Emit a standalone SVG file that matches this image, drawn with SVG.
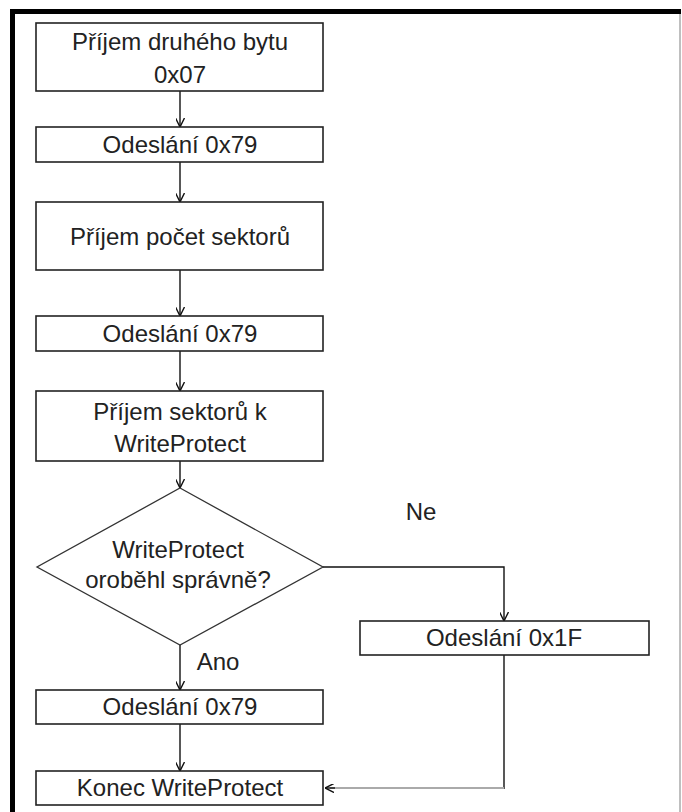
<svg xmlns="http://www.w3.org/2000/svg" width="682" height="812" viewBox="0 0 682 812">
<style>
.box{fill:#fff;stroke:#222;stroke-width:1.6}
.t{font-family:"Liberation Sans",Arial,sans-serif;font-size:24px;fill:#222;text-anchor:middle}
.c{fill:none;stroke:#111;stroke-width:1.4}
</style>
<defs>
<marker id="ah" viewBox="0 0 10 10" refX="10" refY="5" markerWidth="9" markerHeight="9" markerUnits="userSpaceOnUse" orient="auto">
<path d="M0,0 L10,5 L0,10" fill="none" stroke="#111" stroke-width="1.6"/>
</marker>
</defs>
<rect width="682" height="812" fill="#fff"/>
<g id="frame">
<rect x="10" y="9" width="671" height="5" fill="#000"/>
<rect x="10" y="9" width="5" height="803" fill="#000"/>
<line x1="680" y1="14" x2="680" y2="812" stroke="#aaa" stroke-width="1.5"/>
</g>
<g id="connectors">
<line class="c" x1="180" y1="91" x2="180" y2="127" marker-end="url(#ah)"/>
<line class="c" x1="180" y1="162" x2="180" y2="202" marker-end="url(#ah)"/>
<line class="c" x1="180" y1="270" x2="180" y2="316" marker-end="url(#ah)"/>
<line class="c" x1="180" y1="351" x2="180" y2="391" marker-end="url(#ah)"/>
<line class="c" x1="180" y1="461" x2="180" y2="488" marker-end="url(#ah)"/>
<line class="c" x1="180" y1="645" x2="180" y2="690" marker-end="url(#ah)"/>
<line class="c" x1="180" y1="724" x2="180" y2="771" marker-end="url(#ah)"/>
<polyline class="c" points="323,567 504,567 504,621" marker-end="url(#ah)"/>
<line x1="504" y1="655" x2="504" y2="789" stroke="#111" stroke-width="1.4"/>
<line x1="504" y1="788" x2="330" y2="788" stroke="#aaa" stroke-width="2.2"/>
<line class="c" x1="335" y1="788" x2="325" y2="788" marker-end="url(#ah)"/>
<text class="t" x="421" y="520" font-size="22">Ne</text>
<text class="t" x="218" y="670" font-size="22">Ano</text>
</g>
<g id="n1"><rect class="box" x="36" y="23" width="287" height="68"/><text class="t" x="180" y="50">Příjem druhého bytu</text><text class="t" x="180" y="83">0x07</text></g>
<g id="n2"><rect class="box" x="36" y="127" width="287" height="35"/><text class="t" x="180" y="153">Odeslání 0x79</text></g>
<g id="n3"><rect class="box" x="36" y="202" width="287" height="68"/><text class="t" x="180" y="245">Příjem počet sektorů</text></g>
<g id="n4"><rect class="box" x="36" y="316" width="287" height="35"/><text class="t" x="180" y="342">Odeslání 0x79</text></g>
<g id="n5"><rect class="box" x="36" y="391" width="287" height="70"/><text class="t" x="180" y="420">Příjem sektorů k</text><text class="t" x="180" y="452">WriteProtect</text></g>
<g id="n6"><polygon points="180,488 323,567 180,645 37,567" fill="#fff" stroke="#333" stroke-width="1.3"/><text class="t" x="178" y="558">WriteProtect</text><text class="t" x="178" y="588">oroběhl správně?</text></g>
<g id="n7"><rect class="box" x="360" y="621" width="289" height="34"/><text class="t" x="504" y="646">Odeslání 0x1F</text></g>
<g id="n8"><rect class="box" x="36" y="690" width="287" height="34"/><text class="t" x="180" y="715">Odeslání 0x79</text></g>
<g id="n9"><rect class="box" x="36" y="771" width="287" height="34"/><text class="t" x="180" y="796">Konec WriteProtect</text></g>
</svg>
